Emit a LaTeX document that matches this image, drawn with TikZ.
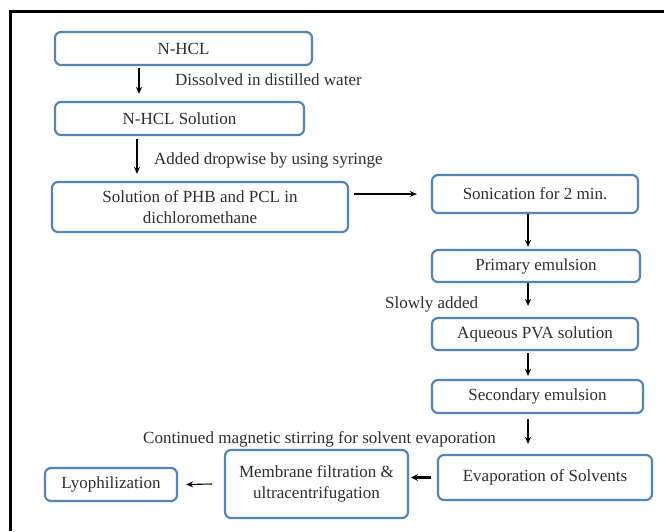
\documentclass[tikz,border=0pt]{standalone}
\usepackage{fontspec}
\setmainfont{Liberation Serif}
\usetikzlibrary{arrows.meta}
\definecolor{boxblue}{RGB}{84,132,178}
\definecolor{txt}{RGB}{45,45,45}
\tikzset{
  stepbox/.style={draw=boxblue, line width=2.2pt, rounded corners=6pt, fill=white,
    inner sep=0pt, align=center, text=txt, font=\fontsize{17}{21}\selectfont},
  lbl/.style={anchor=west, inner sep=0pt, text=txt, font=\fontsize{17}{21}\selectfont},
  arr/.style={line width=1.6pt, -{Stealth[length=7pt,width=6pt]}},
  thinarr/.style={line width=1.1pt, -{Stealth[length=7pt,width=6pt]}},
  boldarr/.style={line width=2.4pt, -{Stealth[length=7pt,width=7pt]}}
}
\begin{document}
\begin{tikzpicture}[x=1pt,y=-1pt]
\useasboundingbox (0,0) rectangle (664,531);
\fill[white] (0,0) rectangle (664,531);
\draw[line width=3pt] (10,531) -- (10,11) -- (664,11);

\node[stepbox, minimum width=257pt, minimum height=33pt] (n1) at (183.5,48.5) {N-HCL};
\node[stepbox, minimum width=249pt, minimum height=33pt] (n2) at (179.5,118.5) {N-HCL Solution};
\node[stepbox, minimum width=296pt, minimum height=50pt] (n3) at (200,207) {Solution of PHB and PCL in\\dichloromethane};
\node[stepbox, minimum width=206pt, minimum height=38pt] (n4) at (535,194) {Sonication for 2 min.};
\node[stepbox, minimum width=208pt, minimum height=32pt] (n5) at (536,266) {Primary emulsion};
\node[stepbox, minimum width=206pt, minimum height=32pt] (n6) at (535,334) {Aqueous PVA solution};
\node[stepbox, minimum width=211pt, minimum height=33pt] (n7) at (537.5,396.5) {Secondary emulsion};
\node[stepbox, minimum width=214pt, minimum height=45pt] (n8) at (545,477.5) {Evaporation of Solvents};
\node[stepbox, minimum width=183pt, minimum height=68pt] (n9) at (316.5,484) {Membrane filtration \&\\ultracentrifugation};
\node[stepbox, minimum width=132pt, minimum height=33pt] (n10) at (111,484.5) {Lyophilization};

\node[lbl] (l1) at (175,80) {Dissolved in distilled water};
\node[lbl] (l2) at (154,160) {Added dropwise by using syringe};
\node[lbl] (l3) at (385,304) {Slowly added};
\node[lbl] (l4) at (143,439) {Continued magnetic stirring for solvent evaporation};

\draw[arr] ([shift={(-44.5,2)}]n1.south) -- ([shift={(-40.5,-7)}]n2.north);
\draw[arr] ([shift={(-42.5,3)}]n2.south) -- ([shift={(-63,-7)}]n3.north);
\draw[thinarr] ([xshift=5pt]n3.east |- n4.west) -- ([xshift=-14pt]n4.west);
\draw[arr] ([shift={(-7,0)}]n4.south) -- ([shift={(-8,-2)}]n5.north);
\draw[arr] ([shift={(-8,0)}]n5.south) -- ([shift={(-7,-11)}]n6.north);
\draw[arr] ([shift={(-7,2)}]n6.south) -- ([shift={(-9.5,-3)}]n7.north);
\draw[arr] ([shift={(-9.5,5)}]n7.south) -- ([shift={(-17,-10)}]n8.north);
\draw[boldarr] ([xshift=-6pt]n8.west) -- ([xshift=2pt]n9.east |- n8.west);
\draw[thinarr] ([xshift=-12pt]n9.west) -- ([xshift=8pt]n10.east);
\end{tikzpicture}
\end{document}
